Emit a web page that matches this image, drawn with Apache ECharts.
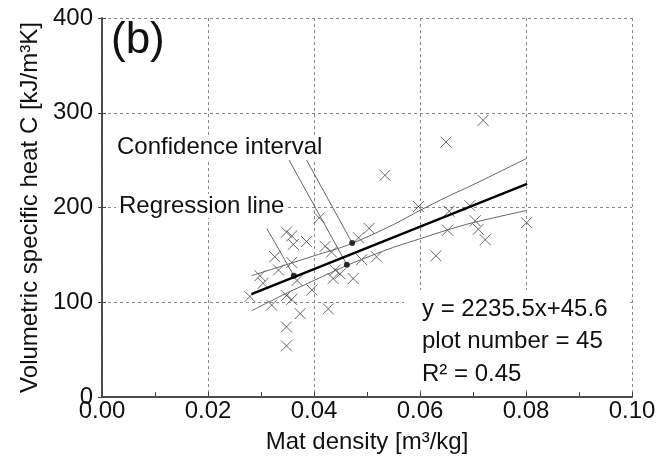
<!DOCTYPE html>
<html>
<head>
<meta charset="utf-8">
<script src="https://cdn.jsdelivr.net/npm/echarts@6/dist/echarts.min.js"></script>
<style>
  html, body { margin: 0; padding: 0; background: #fff; }
  #chart { width: 672px; height: 468px; }
</style>
</head>
<body>
<div id="chart"></div>
<script>
// measured points: mat density [m3/kg] vs volumetric specific heat
const matDensity = [
  0.0719, 0.0649, 0.0534, 0.0597, 0.0655, 0.0694, 0.0704, 0.0710, 0.0723, 0.0801,
  0.0652, 0.0630, 0.0410, 0.0504, 0.0484, 0.0490, 0.0518, 0.0348, 0.0358, 0.0361,
  0.0386, 0.0421, 0.0433, 0.0326, 0.0358, 0.0333, 0.0298, 0.0304, 0.0368, 0.0396,
  0.0348, 0.0358, 0.0279, 0.0320, 0.0374, 0.0427, 0.0440, 0.0436, 0.0449, 0.0474,
  0.0348, 0.0348
]
const heatC = [
  292, 269, 234, 201, 196, 202, 186, 177, 166, 184,
  176, 149, 189, 178, 168, 145, 148, 174, 170, 161,
  164, 159, 153, 148, 142, 134, 128, 120, 123, 113,
  107, 103, 106, 97, 88, 93, 134, 125, 130, 125,
  74, 54
]

// regression line y = 2235.5x + 45.6 (end points)
const regX = [0.0282, 0.0802]
const regY = [108.6, 224.9]

// confidence interval curves
const ciX = [0.0282, 0.035, 0.040, 0.0467, 0.055, 0.060, 0.065, 0.070, 0.0802]
const ciUpper = [128, 140, 149, 161, 182, 197, 211, 224, 252]
const ciLower = [91, 110, 123, 140, 158, 167, 176, 184, 197]

// annotation leader lines: [label end, marker end]
const regPointer = [[0.0311, 177.8], [0.0362, 127.9]]
const ciPointerA = [[0.0353, 250], [0.0462, 139.7]]
const ciPointerB = [[0.0386, 250], [0.0472, 162.6]]

const xTicks = [0, 0.02, 0.04, 0.06, 0.08, 0.10]
const yTicks = [0, 100, 200, 300, 400]

const FONT = '"Liberation Sans", Arial, sans-serif'
const chart = echarts.init(document.getElementById('chart'))

const zip = (xs, ys) => xs.map((x, i) => [x, ys[i]])
const thin = (data) => ({
  type: 'line', data, symbol: 'none', silent: true,
  lineStyle: { color: '#666', width: 1 }
})
// label text with white box so the grid does not run through it
const note = (text, x, y) => ({
  type: 'text', z: 6, x, y,
  style: {
    text, font: '24px ' + FONT, fill: '#111', verticalAlign: 'middle',
    backgroundColor: '#fff', padding: [0, 3]
  }
})

const option = {
  animation: false,
  backgroundColor: '#fff',
  grid: { left: 102, right: 40, top: 18, bottom: 71 },
  xAxis: [{
    type: 'value',
    min: xTicks[0], max: xTicks[xTicks.length - 1], interval: 0.02,
    name: 'Mat density [m³/kg]',
    nameLocation: 'middle', nameGap: 33,
    nameTextStyle: { fontFamily: FONT, fontSize: 24, color: '#111' },
    axisLine: { lineStyle: { color: '#444', width: 1.5 } },
    axisTick: { inside: true, length: 5, lineStyle: { color: '#444' } },
    minorTick: { show: true, splitNumber: 2, length: 5, lineStyle: { color: '#444' } },
    axisLabel: { fontFamily: FONT, fontSize: 24, color: '#111', margin: 2,
      formatter: v => v.toFixed(2) },
    splitLine: { show: true, lineStyle: { color: '#888', type: [3, 3], width: 1 } }
  }, {
    type: 'value', position: 'top',
    min: xTicks[0], max: xTicks[xTicks.length - 1], interval: 0.02,
    axisLine: { show: true, lineStyle: { color: '#444', width: 1.5 } },
    axisTick: { show: false }, axisLabel: { show: false }, splitLine: { show: false }
  }],
  yAxis: [{
    type: 'value',
    min: yTicks[0], max: yTicks[yTicks.length - 1], interval: 100,
    name: 'Volumetric specific heat C [kJ/m³K]',
    nameLocation: 'middle', nameGap: 60,
    nameTextStyle: { fontFamily: FONT, fontSize: 24, color: '#111' },
    axisLine: { show: true, lineStyle: { color: '#444', width: 1.5 } },
    axisTick: { show: true, inside: true, length: 4, lineStyle: { color: '#444' } },
    axisLabel: { fontFamily: FONT, fontSize: 24, color: '#111', margin: 9 },
    splitLine: { show: true, lineStyle: { color: '#888', type: [3, 3], width: 1 } }
  }, {
    type: 'value', position: 'right',
    min: yTicks[0], max: yTicks[yTicks.length - 1], interval: 100,
    axisLine: { show: true, lineStyle: { color: '#444', width: 1.5 } },
    axisTick: { show: true, inside: true, length: 4, lineStyle: { color: '#444' } },
    axisLabel: { show: false }, splitLine: { show: false }
  }],
  graphic: [
    // white box behind the statistics text
    { type: 'rect', z: 5, shape: { x: 404, y: 290, width: 224, height: 100 },
      style: { fill: '#fff' } },
    { type: 'text', z: 6, left: 111, top: 19,
      style: { text: '(b)', font: '44px ' + FONT, fill: '#111' } },
    note('Confidence interval', 114, 147),
    note('Regression line', 116, 206),
    note('y = 2235.5x+45.6', 419, 309),
    note('plot number = 45', 419, 341),
    note('R² = 0.45', 419, 374)
  ],
  series: [
    {
      type: 'scatter',
      data: zip(matDensity, heatC),
      symbol: 'path://M0,0L10,10M10,0L0,10',
      symbolSize: 11,
      itemStyle: { color: 'none', borderColor: '#444', borderWidth: 1 }
    },
    { ...thin(zip(ciX, ciUpper)), smooth: 0.3 },
    { ...thin(zip(ciX, ciLower)), smooth: 0.3 },
    thin(regPointer),
    thin(ciPointerA),
    thin(ciPointerB),
    {
      type: 'line', data: zip(regX, regY), symbol: 'none', silent: true,
      lineStyle: { color: '#000', width: 2.5 }
    },
    {
      type: 'scatter', z: 4,
      data: [regPointer[1], ciPointerA[1], ciPointerB[1]],
      symbol: 'circle', symbolSize: 6,
      itemStyle: { color: '#000' }
    }
  ]
}

chart.setOption(option)
</script>
</body>
</html>
